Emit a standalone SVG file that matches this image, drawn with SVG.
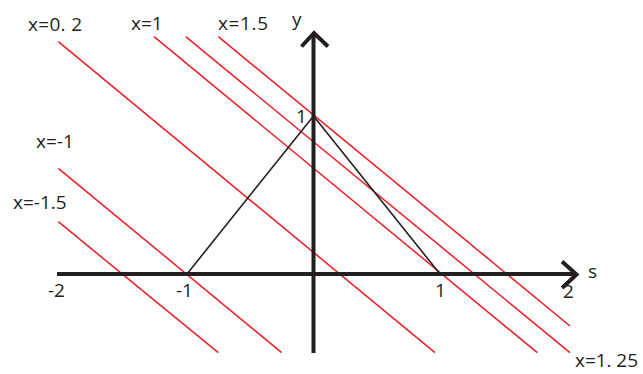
<svg xmlns="http://www.w3.org/2000/svg" width="643" height="374" viewBox="0 0 643 374">
<style>
.red{stroke:#ED1C24;stroke-width:1.5;fill:none}
.axis{stroke:#231F20;stroke-width:4;fill:none}
.tri{stroke:#231F20;stroke-width:1.6;fill:none}
text{font-family:"Open Sans","Liberation Sans",sans-serif;font-size:19px;fill:#231F20}
</style>
<rect width="643" height="374" fill="#fff"/>
<g id="connectors">
<line class="red" x1="58.3" y1="41.7" x2="435" y2="352.7"/>
<line class="red" x1="154" y1="36.7" x2="537.3" y2="352.7"/>
<line class="red" x1="185.7" y1="36.7" x2="570" y2="352.7"/>
<line class="red" x1="218.3" y1="36.7" x2="570" y2="326"/>
<line class="red" x1="58.3" y1="168.3" x2="281.7" y2="352.7"/>
<line class="red" x1="58.3" y1="221.7" x2="218.3" y2="352.7"/>
</g>
<g id="axes">
<line class="axis" x1="57" y1="274" x2="576" y2="274"/>
<polyline class="axis" points="562,261.5 576.5,274.5 562,288"/>
<line class="axis" x1="313.5" y1="353" x2="313.5" y2="33"/>
<polyline class="axis" points="301.5,46.5 314,33 328,46.5"/>
</g>
<g id="triangle">
<polyline class="tri" points="187,274 313.5,116 440,274"/>
</g>
<g id="labels">
<text x="28" y="31" textLength="54">x=0. 2</text>
<text x="131" y="30">x=1</text>
<text x="218" y="30" textLength="50">x=1.5</text>
<text x="292" y="26">y</text>
<text x="296" y="123">1</text>
<text x="36" y="148">x=-1</text>
<text x="13" y="209">x=-1.5</text>
<text x="48" y="297">-2</text>
<text x="176" y="297">-1</text>
<text x="435" y="297">1</text>
<text x="563" y="298">2</text>
<text x="588" y="278">s</text>
<text x="575" y="367" font-size="18" textLength="63">x=1. 25</text>
</g>
</svg>
